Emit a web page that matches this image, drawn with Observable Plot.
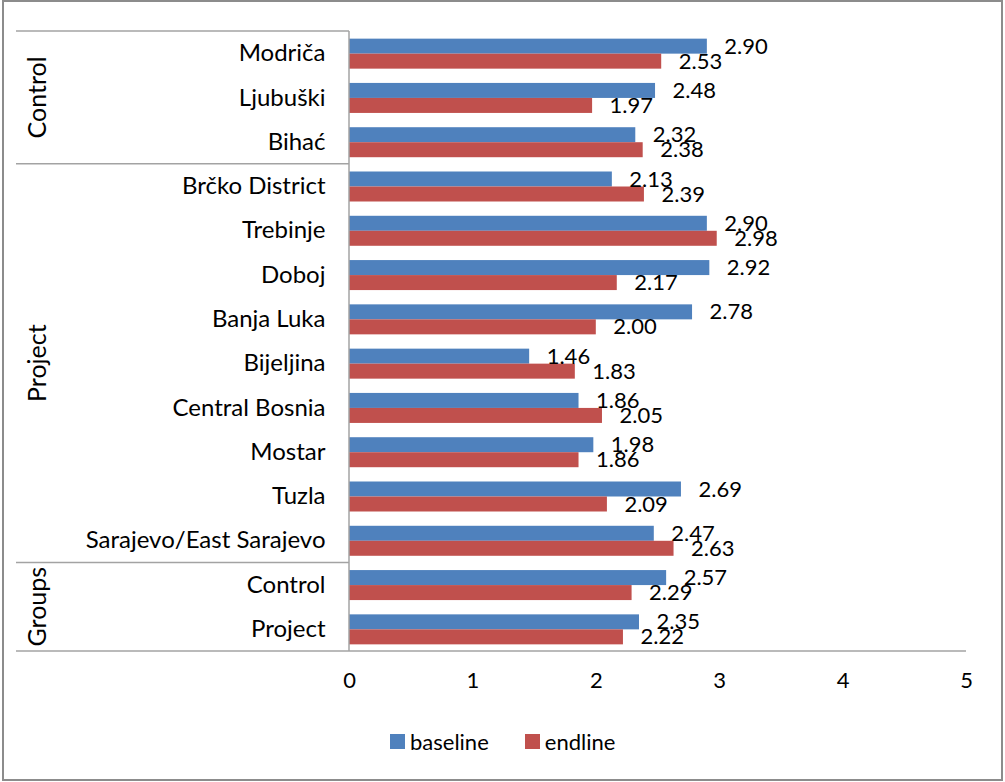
<!DOCTYPE html>
<html>
<head>
<meta charset="utf-8">
<script src="https://cdn.jsdelivr.net/npm/d3@7"></script>
<script src="https://cdn.jsdelivr.net/npm/@observablehq/plot@0.6"></script>
<style>
  body { margin: 0; background: #fff; }
  #wrap { position: relative; width: 1005px; height: 782px; font-family: Lato, "Open Sans", sans-serif; }
  #frame { position: absolute; left: 2px; top: 0px; width: 997px; height: 777px; border: 2px solid #8c8c8c; box-sizing: content-box; pointer-events: none; }
  #chart { position: absolute; left: 0; top: 0; }
  #legend { position: absolute; top: 728px; left: 0; width: 1005px; display: flex; justify-content: flex-start; font-size: 22px; color: #000; }
  .item { display: flex; align-items: center; margin-right: 36px; }
  .sw { width: 15px; height: 15px; margin-right: 5px; }
</style>
</head>
<body>
<div id="wrap">
  <div id="chart"></div>
  <div id="legend"></div>
  <div id="frame"></div>
</div>
<script>
const categories = ["Modriča","Ljubuški","Bihać","Brčko District","Trebinje","Doboj","Banja Luka","Bijeljina","Central Bosnia","Mostar","Tuzla","Sarajevo/East Sarajevo","Control","Project"];
const baseline = [2.90,2.48,2.32,2.13,2.90,2.92,2.78,1.46,1.86,1.98,2.69,2.47,2.57,2.35];
const endline  = [2.53,1.97,2.38,2.39,2.98,2.17,2.00,1.83,2.05,1.86,2.09,2.63,2.29,2.22];
const seriesNames = ["baseline","endline"];
const seriesColors = ["#4F81BD","#C0504D"];
const groupNames = ["Control","Project","Groups"];
const groupMembers = [
  ["Modriča","Ljubuški","Bihać"],
  ["Brčko District","Trebinje","Doboj","Banja Luka","Bijeljina","Central Bosnia","Mostar","Tuzla","Sarajevo/East Sarajevo"],
  ["Control","Project"]
];
const xTicks = [0,1,2,3,4,5];

const data = categories.flatMap((c, i) => [
  {category: c, series: seriesNames[0], value: baseline[i]},
  {category: c, series: seriesNames[1], value: endline[i]}
]);

const plot = Plot.plot({
  width: 1005,
  height: 715,
  marginLeft: 349,
  marginRight: 39,
  marginTop: 31,
  marginBottom: 64,
  style: {fontFamily: "Lato, 'Open Sans', sans-serif", fontSize: "24px", color: "#000", background: "transparent"},
  x: {domain: [0, 5], ticks: xTicks, tickFormat: d3.format("d"), label: null, tickSize: 0, tickPadding: 28},
  y: {domain: seriesNames, axis: null, padding: 0},
  fy: {domain: categories, paddingInner: 0.3, paddingOuter: 0.15, round: false, label: null, axis: "left", tickSize: 0, tickPadding: 24},
  color: {domain: seriesNames, range: seriesColors},
  marks: [
    Plot.barX(data, {x: "value", y: "series", fy: "category", fill: "series"}),
    Plot.text(data, {x: "value", y: "series", fy: "category", text: d => d.value.toFixed(2), textAnchor: "start", dx: 17, fontSize: 22})
  ]
});

document.getElementById("chart").appendChild(plot);

d3.select(plot).selectAll('g[aria-label="x-axis tick label"] text').attr("font-size", 22);

// structure lines from the plot's scales
const xs = plot.scale("x");
const fs = plot.scale("fy");
const band = d3.scaleBand().domain(fs.domain).range(fs.range)
  .paddingInner(fs.paddingInner).paddingOuter(fs.paddingOuter).align(fs.align ?? 0.5);
const step = band.step(), pin = fs.paddingInner;
const before = c => band(c) - step * pin / 2;
const after = c => band(c) + band.bandwidth() + step * pin / 2;
const x0 = xs.apply(0), xEnd = xs.apply(5);
const lineColor = "#a3a3a3";
const g = d3.select(plot).append("g").attr("stroke", lineColor).attr("stroke-width", 1.5);
const leftX = 16;
groupMembers.forEach((m) => {
  g.append("line").attr("x1", leftX).attr("x2", x0).attr("y1", before(m[0])).attr("y2", before(m[0]));
});
const lastCat = categories[categories.length - 1];
const firstCat = categories[0];
g.append("line").attr("x1", leftX).attr("x2", xEnd).attr("y1", after(lastCat)).attr("y2", after(lastCat));
g.append("line").attr("x1", x0).attr("x2", x0).attr("y1", before(firstCat)).attr("y2", after(lastCat));

const tg = d3.select(plot).append("g").attr("font-size", 25).attr("fill", "#000").attr("text-anchor", "middle");
groupMembers.forEach((m, i) => {
  const cy = (before(m[0]) + after(m[m.length - 1])) / 2;
  tg.append("text").attr("transform", `translate(37,${cy}) rotate(-90)`).attr("dy", "0.35em").text(groupNames[i]);
});

// legend
const legend = d3.select("#legend");
legend.append("div").style("width", "390px");
seriesNames.forEach((s, i) => {
  const it = legend.append("div").attr("class", "item");
  it.append("div").attr("class", "sw").style("background", seriesColors[i]);
  it.append("span").text(s);
});
</script>
</body>
</html>
